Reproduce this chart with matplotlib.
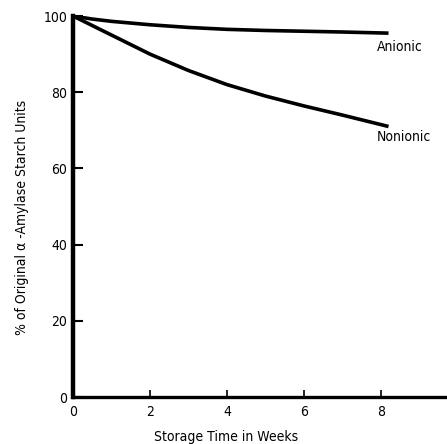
import matplotlib
matplotlib.use("Agg")
import matplotlib.pyplot as plt
import numpy as np

weeks = [0, 0.5, 1, 2, 3, 4, 5, 6, 7, 8.2]
anionic = [100, 99.2, 98.6, 97.7, 97.0, 96.5, 96.2, 96.0, 95.8, 95.5]
nonionic = [100, 97.5, 95.0, 90.0, 85.7, 82.0, 79.0, 76.4, 74.0, 71.0]
xticks = [0, 2, 4, 6, 8]
yticks = [0, 20, 40, 60, 80, 100]

font = dict(family="DejaVu Sans", stretch="condensed")

fig = plt.figure(figsize=(4.47, 4.44), dpi=100)
ax = fig.add_axes([73/447, 47/444, 374/447, 381/444])
ax.plot(weeks, anionic, color="black", lw=2.6, solid_capstyle="butt")
ax.plot(weeks, nonionic, color="black", lw=2.6, solid_capstyle="butt")
ax.set_xlim(0, 9.72)
ax.set_ylim(0, 100)
ax.spines["top"].set_visible(False)
ax.spines["right"].set_visible(False)
ax.spines["left"].set_linewidth(3.2)
ax.spines["bottom"].set_linewidth(2.4)
ax.set_xticks(xticks)
ax.set_yticks(yticks)
ax.tick_params(axis="y", direction="in", length=7, width=1.5, labelsize=10, pad=4)
ax.tick_params(axis="x", direction="in", length=5, width=1.2, labelsize=10, pad=6)
for lab in ax.get_xticklabels() + ax.get_yticklabels():
    lab.set_fontstretch("condensed")
ax.set_xlabel("Storage Time in Weeks", fontsize=10, va="center", **font)
ax.xaxis.set_label_coords(0.41, -0.105)
ax.set_ylabel("% of Original α -Amylase Starch Units", fontsize=10, va="center", **font)
ax.yaxis.set_label_coords(-0.137, 0.47)
ax.text(7.9, 93.8, "Anionic", fontsize=10, ha="left", va="top", **font)
ax.text(7.9, 70.0, "Nonionic", fontsize=10, ha="left", va="top", **font)
fig.savefig("out.png", dpi=100)
